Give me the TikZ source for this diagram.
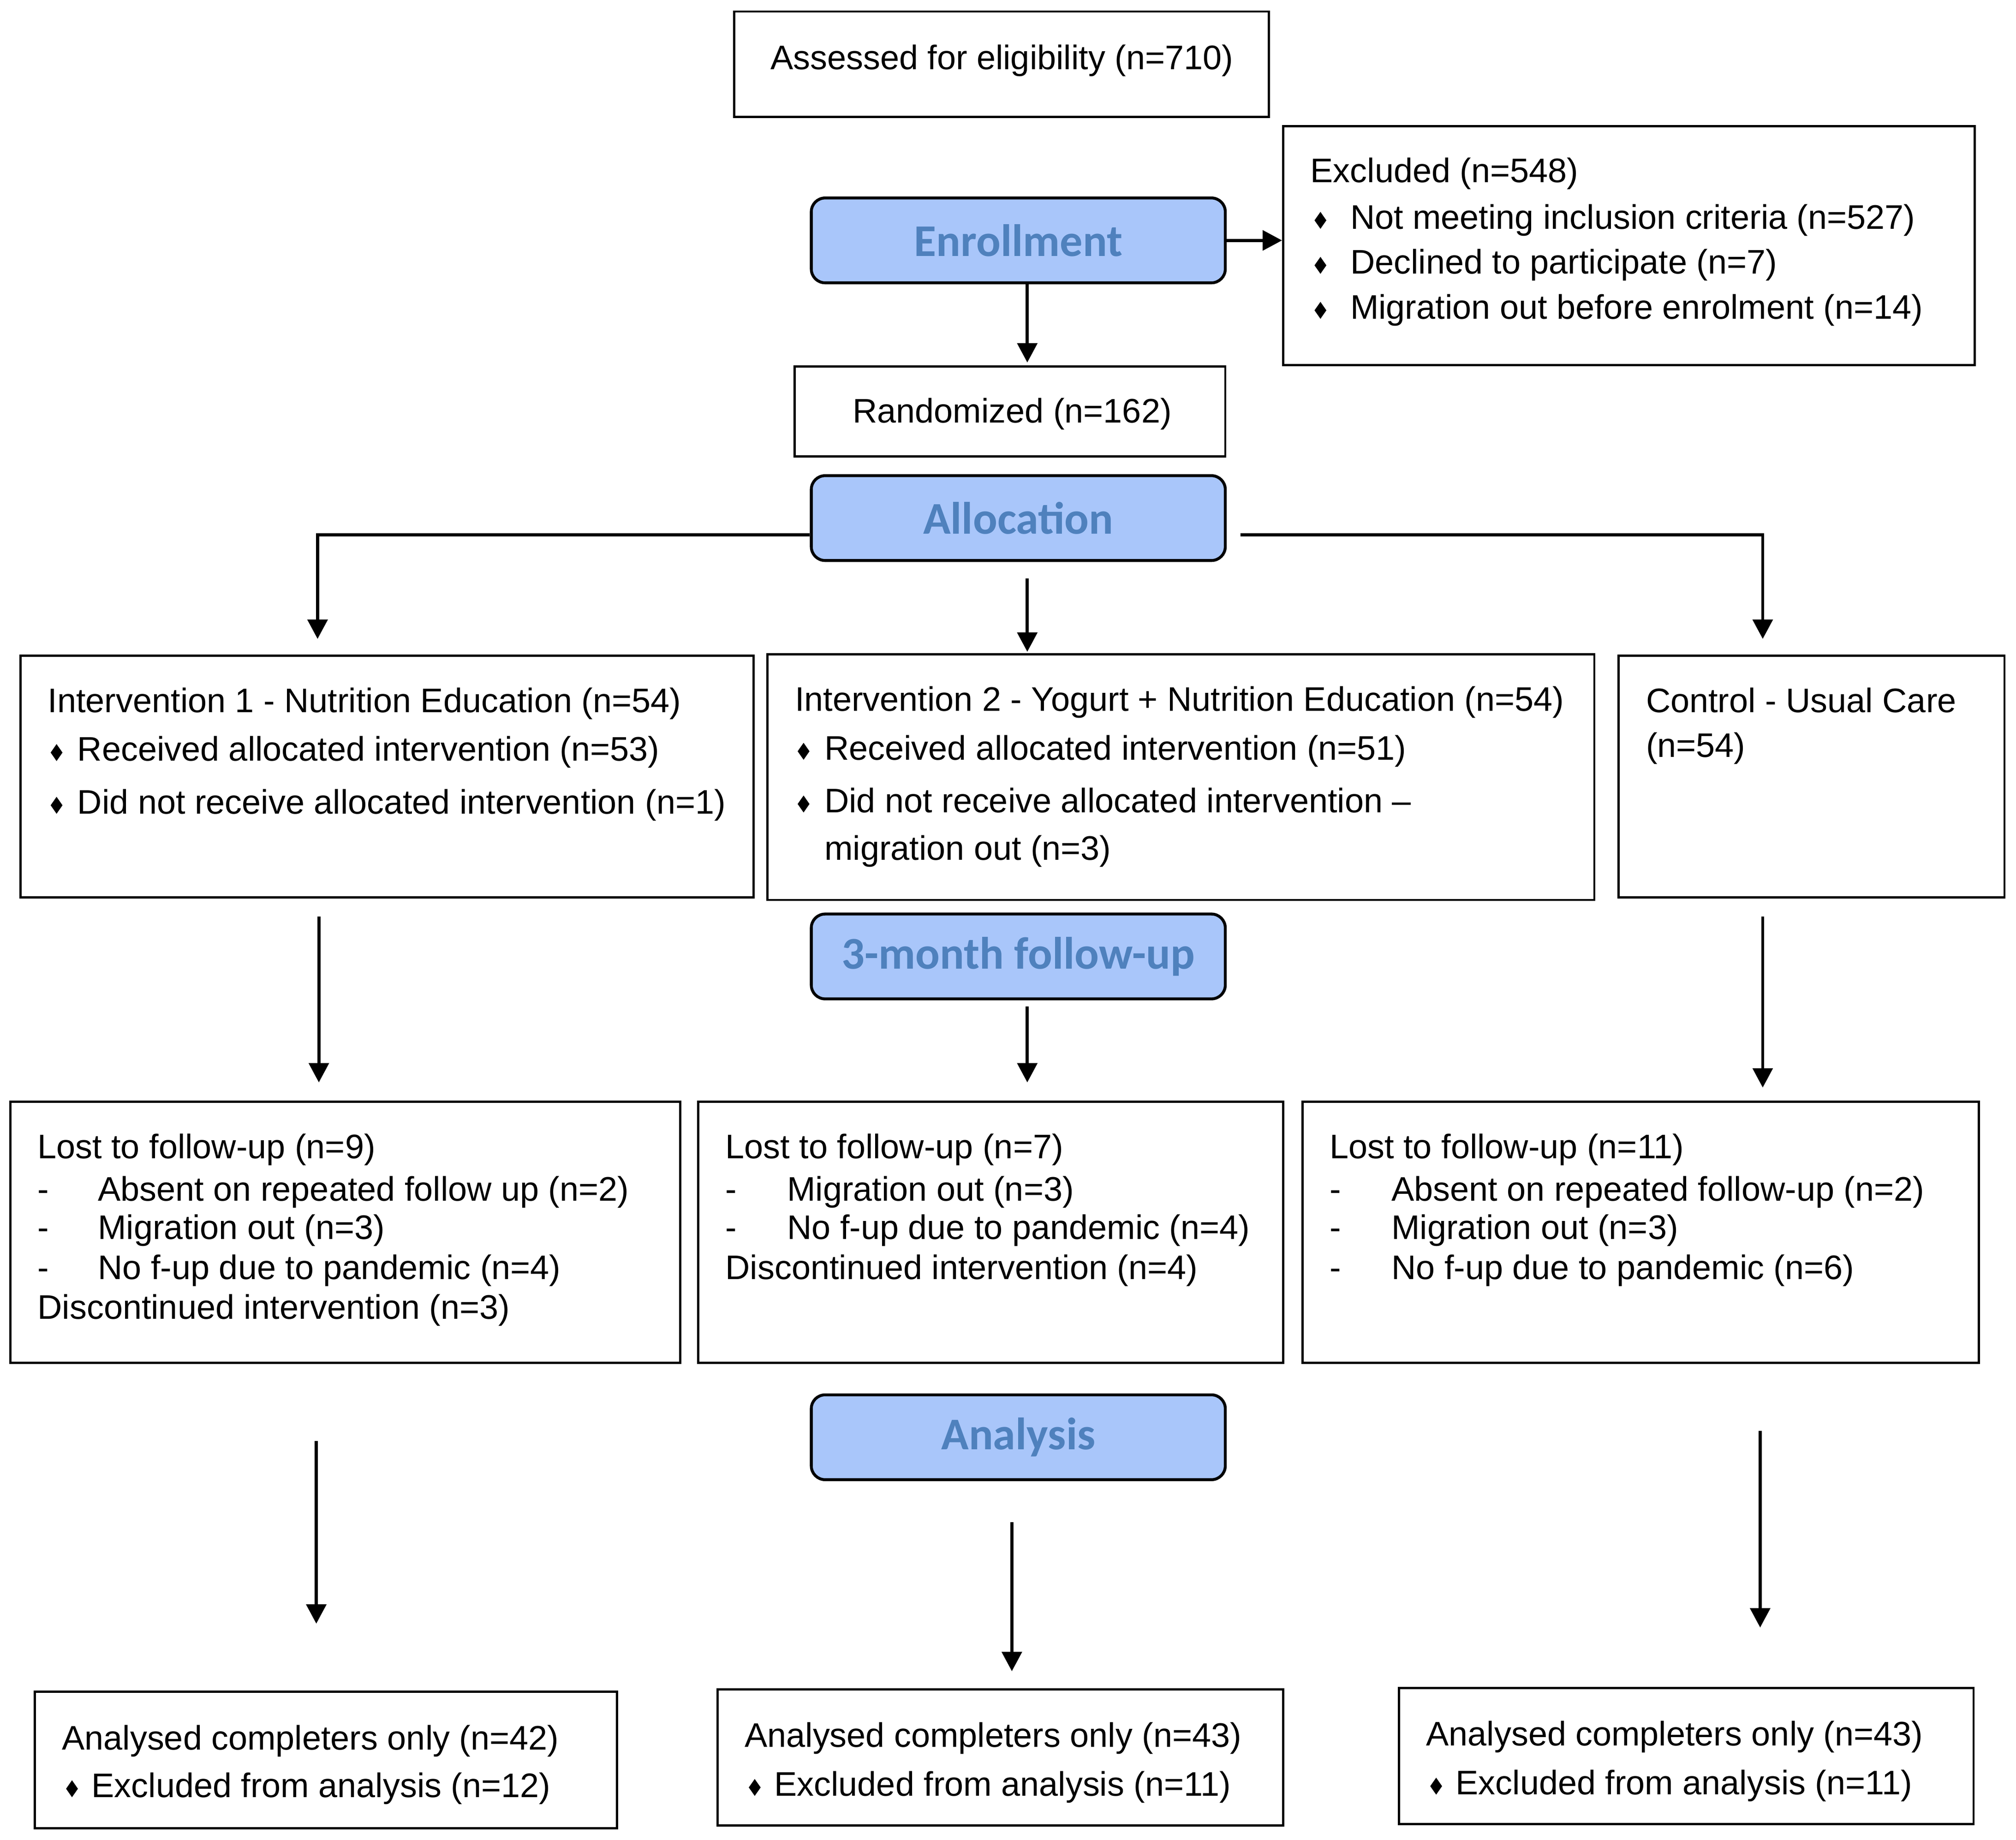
\documentclass[tikz,border=0pt]{standalone}
\usepackage{fontspec}
\setmainfont{Liberation Sans}
\newfontfamily\hdrfont{Carlito}
\usetikzlibrary{arrows.meta,fit}
\definecolor{hdrfill}{RGB}{169,198,250}
\definecolor{hdrtext}{RGB}{79,129,189}
\newcommand\dmd[2]{\fill (#1,#2) -- ++(4.6,-6.6) -- ++(-4.6,-6.6) -- ++(-4.6,6.6) -- cycle;}
\begin{document}
\begin{tikzpicture}[x=0.2787mm,y=-0.2787mm,
  box/.style={draw,line width=1.35pt,inner sep=0pt},
  hdr/.style={draw,line width=1.8pt,rounded corners=3mm,fill=hdrfill,inner sep=0pt,
    font=\hdrfont\bfseries\fontsize{28}{32}\selectfont,text=hdrtext},
  txt/.style={anchor=base west,inner sep=0pt,font=\fontsize{21}{25}\selectfont},
  arr/.style={line width=1.9pt,-{Triangle[length=4.2mm,width=4.3mm]}}]
\useasboundingbox (0,0) rectangle (1568,1431);
% boxes
\node[box,fit={(571,9) (987,91)}] (assess) {};
\node[box,fit={(998,98) (1536,284)}] (excl) {};
\node[box,fit={(618,285) (953,355)}] (rand) {};
\node[box,fit={(16,510) (586,698)}] (int1) {};
\node[box,fit={(597,509) (1240,700)}] (int2) {};
\node[box,fit={(1259,510) (1559,698)}] (ctrl) {};
\node[box,fit={(8,857) (529,1060)}] (lost1) {};
\node[box,fit={(543,857) (998,1060)}] (lost2) {};
\node[box,fit={(1013,857) (1539,1060)}] (lost3) {};
\node[box,fit={(27,1316) (480,1422)}] (ana1) {};
\node[box,fit={(558,1314) (998,1420)}] (ana2) {};
\node[box,fit={(1088,1313) (1535,1419)}] (ana3) {};
% headers
\node[hdr,minimum width=322*0.2787mm,minimum height=66*0.2787mm] (enr) at (792,187) {Enrollment};
\node[hdr,minimum width=322*0.2787mm,minimum height=66*0.2787mm] (alloc) at (792,403) {Allocation};
\node[hdr,minimum width=322*0.2787mm,minimum height=66*0.2787mm] (fup) at (792,744) {3-month follow-up};
\node[hdr,minimum width=322*0.2787mm,minimum height=66*0.2787mm] (anl) at (792,1118) {Analysis};
% texts
\node[txt] (t1) at (599,54) {Assessed for eligibility (n=710)};
\node[txt] (t2) at (1019,142) {Excluded (n=548)};
\node[txt] (t3) at (1050,178) {Not meeting inclusion criteria (n=527)};
\node[txt] (t4) at (1050,213) {Declined to participate (n=7)};
\node[txt] (t5) at (1050,248) {Migration out before enrolment (n=14)};
\dmd{1027}{178}\dmd{1027}{213}\dmd{1027}{248}
\node[txt] (t6) at (663,329) {Randomized (n=162)};
\node[txt] (t7) at (37,554) {Intervention 1 - Nutrition Education (n=54)};
\node[txt] (t8) at (60,592) {Received allocated intervention (n=53)};
\node[txt] (t9) at (60,633) {Did not receive allocated intervention (n=1)};
\dmd{44}{592}\dmd{44}{633}
\node[txt] (t10) at (618,553) {Intervention 2 - Yogurt + Nutrition Education (n=54)};
\node[txt] (t11) at (641,591) {Received allocated intervention (n=51)};
\node[txt] (t12) at (641,632) {Did not receive allocated intervention \textendash};
\node[txt] (t13) at (641,669) {migration out (n=3)};
\dmd{625}{591}\dmd{625}{632}
\node[txt] (t14) at (1280,554) {Control - Usual Care};
\node[txt] (t15) at (1280,589) {(n=54)};
% lost 1
\node[txt] (l1a) at (29,901) {Lost to follow-up (n=9)};
\node[txt] (l1b) at (29,934) {-}; \node[txt] (l1bb) at (76,934) {Absent on repeated follow up (n=2)};
\node[txt] (l1c) at (29,964) {-}; \node[txt] (l1cc) at (76,964) {Migration out (n=3)};
\node[txt] (l1d) at (29,995) {-}; \node[txt] (l1dd) at (76,995) {No f-up due to pandemic (n=4)};
\node[txt] (l1e) at (29,1026) {Discontinued intervention (n=3)};
% lost 2
\node[txt] (l2a) at (564,901) {Lost to follow-up (n=7)};
\node[txt] (l2b) at (564,934) {-}; \node[txt] (l2bb) at (612,934) {Migration out (n=3)};
\node[txt] (l2c) at (564,964) {-}; \node[txt] (l2cc) at (612,964) {No f-up due to pandemic (n=4)};
\node[txt] (l2d) at (564,995) {Discontinued intervention (n=4)};
% lost 3
\node[txt] (l3a) at (1034,901) {Lost to follow-up (n=11)};
\node[txt] (l3b) at (1034,934) {-}; \node[txt] (l3bb) at (1082,934) {Absent on repeated follow-up (n=2)};
\node[txt] (l3c) at (1034,964) {-}; \node[txt] (l3cc) at (1082,964) {Migration out (n=3)};
\node[txt] (l3d) at (1034,995) {-}; \node[txt] (l3dd) at (1082,995) {No f-up due to pandemic (n=6)};
% analysed
\node[txt] (a1a) at (48,1361) {Analysed completers only (n=42)};
\node[txt] (a1b) at (71,1398) {Excluded from analysis (n=12)};
\dmd{56}{1398}
\node[txt] (a2a) at (579,1359) {Analysed completers only (n=43)};
\node[txt] (a2b) at (602,1397) {Excluded from analysis (n=11)};
\dmd{587}{1397}
\node[txt] (a3a) at (1109,1358) {Analysed completers only (n=43)};
\node[txt] (a3b) at (1132,1396) {Excluded from analysis (n=11)};
\dmd{1117}{1396}
% connectors
\coordinate (c0e) at (799,282);
\coordinate (c1) at (247,497);
\coordinate (c2) at (1371,497);
\coordinate (c3s) at (965,416);
\coordinate (c4s) at (799,450);
\coordinate (c4e) at (799,507);
\coordinate (c5s) at (248,713);
\coordinate (c5e) at (248,842);
\coordinate (c6s) at (799,783);
\coordinate (c6e) at (799,842);
\coordinate (c7s) at (1371,713);
\coordinate (c7e) at (1371,846);
\coordinate (c8s) at (246,1121);
\coordinate (c8e) at (246,1263);
\coordinate (c9s) at (787,1184);
\coordinate (c9e) at (787,1300);
\coordinate (c10s) at (1369,1113);
\coordinate (c10e) at (1369,1266);
\draw[arr] (enr.east) -- (enr.east -| excl.west);
\draw[arr] (enr.south -| c0e) -- (c0e);
\draw[arr] ([yshift=-3.62mm]alloc.west) -| (c1);
\draw[arr] (c3s) -| (c2);
\draw[arr] (c4s) -- (c4e);
\draw[arr] (c5s) -- (c5e);
\draw[arr] (c6s) -- (c6e);
\draw[arr] (c7s) -- (c7e);
\draw[arr] (c8s) -- (c8e);
\draw[arr] (c9s) -- (c9e);
\draw[arr] (c10s) -- (c10e);
\end{tikzpicture}
\end{document}
